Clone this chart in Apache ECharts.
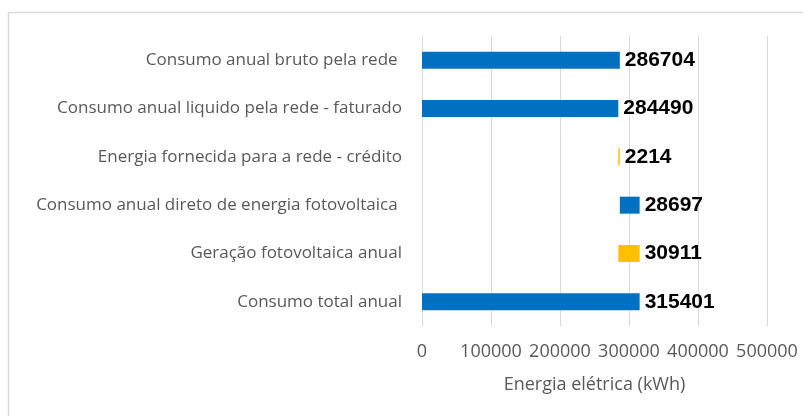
<!DOCTYPE html>
<html>
<head>
<meta charset="utf-8">
<title>Energia elétrica</title>
<script src="https://cdn.jsdelivr.net/npm/echarts@6/dist/echarts.min.js"></script>
<style>
    html, body { margin: 0; padding: 0; background: #fff; }
    #demo { width: 803px; height: 416px; }
</style>
</head>
<body>
<div id="demo"></div>
<script>
// categorias (de cima para baixo)
var categorias = [
    'Consumo anual bruto pela rede ',
    'Consumo anual liquido pela rede - faturado',
    'Energia fornecida para a rede - crédito',
    'Consumo anual direto de energia fotovoltaica ',
    'Geração fotovoltaica anual',
    'Consumo total anual'
];
// base invisível (cascata)
var base = [0, 0, 284490, 286704, 284490, 0];
// barras azuis
var consumo = [286704, 284490, '-', 28697, '-', 315401];
// barras amarelas
var fotovoltaica = ['-', '-', 2214, '-', 30911, '-'];
// eixo x
var eixoMin = 0, eixoMax = 500000, eixoPasso = 100000;

var labelValor = {
    show: true,
    position: 'right',
    distance: 5,
    color: '#000',
    fontFamily: 'Liberation Sans, Arial, sans-serif',
    fontWeight: 'bold',
    fontSize: 21
};

var option = {
    animation: false,
    backgroundColor: '#fff',
    graphic: [{
        type: 'rect',
        shape: { x: 8.5, y: 12.5, width: 820, height: 430 },
        style: { fill: 'none', stroke: '#d9d9d9', lineWidth: 1.5 },
        silent: true
    }],
    grid: { left: 422, right: 36, top: 36, bottom: 90 },
    xAxis: {
        type: 'value',
        min: eixoMin,
        max: eixoMax,
        interval: eixoPasso,
        name: 'Energia elétrica (kWh)',
        nameLocation: 'middle',
        nameGap: 50,
        nameTextStyle: { color: '#595959', fontFamily: 'Open Sans', fontSize: 18 },
        axisLine: { show: false },
        axisTick: { show: false },
        axisLabel: {
            color: '#595959', fontFamily: 'Open Sans', fontSize: 18, margin: 17,
            formatter: function (v) { return String(v); }
        },
        splitLine: { lineStyle: { color: '#d9d9d9', width: 1 } }
    },
    yAxis: {
        type: 'category',
        inverse: true,
        data: categorias,
        axisLine: { show: false },
        axisTick: { show: false },
        axisLabel: { color: '#595959', fontFamily: 'Open Sans', fontSize: 17, margin: 20 }
    },
    series: [{
        name: 'base',
        type: 'bar',
        stack: 'total',
        data: base,
        barWidth: 17,
        itemStyle: { color: 'transparent' },
        silent: true
    }, {
        name: 'Consumo',
        type: 'bar',
        stack: 'total',
        data: consumo,
        barWidth: 17,
        itemStyle: { color: '#0070c0' },
        label: labelValor
    }, {
        name: 'Fotovoltaica',
        type: 'bar',
        stack: 'total',
        data: fotovoltaica,
        barWidth: 17,
        itemStyle: { color: '#ffc000' },
        label: labelValor
    }]
};

var myChart = echarts.init(document.getElementById('demo'));
myChart.setOption(option);
</script>
</body>
</html>
